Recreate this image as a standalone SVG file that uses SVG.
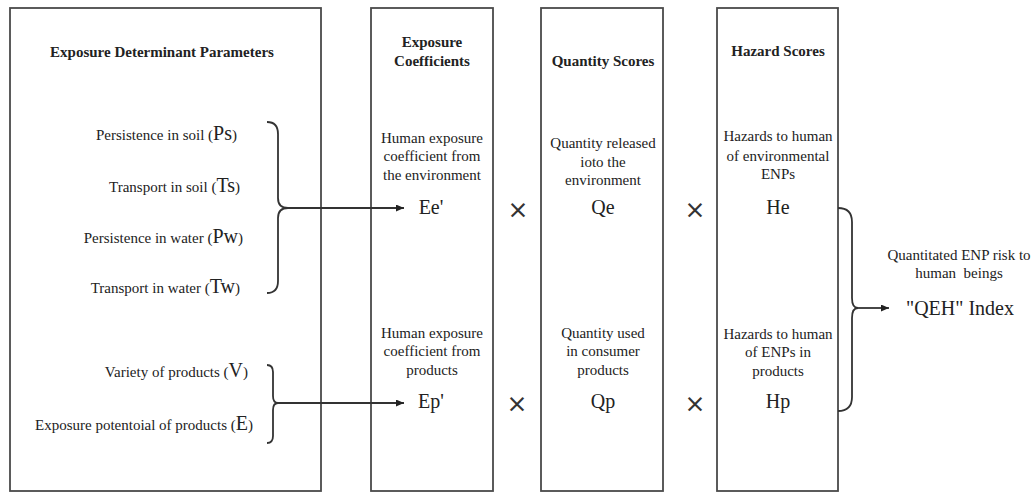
<svg xmlns="http://www.w3.org/2000/svg" width="1036" height="492" viewBox="0 0 1036 492">
<defs>
<style>
.box{fill:#fff;stroke:#4a4a4a;stroke-width:1.8}
.t{font-family:'Liberation Serif','DejaVu Serif',serif;font-size:15px;fill:#222}
.b{font-weight:bold}
.m{text-anchor:middle}
.e{text-anchor:end}
.big{font-size:20px}
.x{font-family:'DejaVu Sans',sans-serif;font-size:25px;fill:#333;text-anchor:middle}
.ln{fill:none;stroke:#333;stroke-width:1.8}
</style>
<marker id="ah" viewBox="0 0 10 10" refX="10" refY="5" markerWidth="8" markerHeight="7" markerUnits="userSpaceOnUse" orient="auto" preserveAspectRatio="none">
<path d="M0,0 L10,5 L0,10 z" fill="#222"/>
</marker>
</defs>
<rect width="1036" height="492" fill="#fff"/>

<g id="params">
<rect class="box" x="10" y="8" width="311" height="483"/>
<text class="t b m" x="162" y="57">Exposure Determinant Parameters</text>
<text class="t e" x="237" y="140">Persistence in soil (<tspan class="big">Ps</tspan>)</text>
<text class="t e" x="240" y="192">Transport in soil (<tspan class="big">Ts</tspan>)</text>
<text class="t e" x="243" y="243">Persistence in water (<tspan class="big">Pw</tspan>)</text>
<text class="t e" x="240" y="293">Transport in water (<tspan class="big">Tw</tspan>)</text>
<text class="t e" x="248" y="377">Variety of products (<tspan class="big">V</tspan>)</text>
<text class="t e" x="253" y="430">Exposure potentoial of products (<tspan class="big">E</tspan>)</text>
</g>

<g id="coefficients">
<rect class="box" x="371" y="8" width="122" height="483"/>
<text class="t b m" x="432" y="47">Exposure</text>
<text class="t b m" x="432" y="66">Coefficients</text>
<text class="t m" x="432" y="143">Human exposure</text>
<text class="t m" x="432" y="161">coefficient from</text>
<text class="t m" x="432" y="180">the environment</text>
<text class="t m big" x="431" y="214">Ee'</text>
<text class="t m" x="432" y="338">Human exposure</text>
<text class="t m" x="432" y="356">coefficient from</text>
<text class="t m" x="432" y="375">products</text>
<text class="t m big" x="431" y="408">Ep'</text>
</g>

<g id="quantity">
<rect class="box" x="541" y="8" width="122" height="483"/>
<text class="t b m" x="603" y="66">Quantity Scores</text>
<text class="t m" x="603" y="148">Quantity released</text>
<text class="t m" x="603" y="167">ioto the</text>
<text class="t m" x="603" y="185">environment</text>
<text class="t m big" x="603" y="214">Qe</text>
<text class="t m" x="603" y="338">Quantity used</text>
<text class="t m" x="603" y="356">in consumer</text>
<text class="t m" x="603" y="375">products</text>
<text class="t m big" x="603" y="408">Qp</text>
</g>

<g id="hazard">
<rect class="box" x="717" y="8" width="121" height="483"/>
<text class="t b m" x="778" y="56">Hazard Scores</text>
<text class="t m" x="778" y="141">Hazards to human</text>
<text class="t m" x="778" y="161">of environmental</text>
<text class="t m" x="778" y="179">ENPs</text>
<text class="t m big" x="778" y="214">He</text>
<text class="t m" x="778" y="339">Hazards to human</text>
<text class="t m" x="778" y="357">of ENPs in</text>
<text class="t m" x="778" y="376">products</text>
<text class="t m big" x="778" y="408">Hp</text>
</g>

<g id="times">
<text class="x" x="518" y="218">×</text>
<text class="x" x="695" y="218">×</text>
<text class="x" x="517" y="412">×</text>
<text class="x" x="695" y="412">×</text>
</g>

<g id="result">
<text class="t m" x="959" y="260">Quantitated ENP risk to</text>
<text class="t m" x="959" y="278" style="white-space:pre">human  beings</text>
<text class="t m big" x="960" y="315">"QEH" Index</text>
</g>

<g id="connectors">
<path class="ln" d="M267,122 Q278,122 278,134 L278,198 Q278,208 288,208 Q278,208 278,218 L278,281 Q278,293 267,293"/>
<path class="ln" d="M288,208 L404,208" marker-end="url(#ah)"/>
<path class="ln" d="M267,365 Q273,365 273,372 L273,396 Q273,403 278,403 Q273,403 273,410 L273,436 Q273,443 267,443"/>
<path class="ln" d="M278,403 L404,403" marker-end="url(#ah)"/>
<path class="ln" d="M838,208 Q852,208 852,222 L852,298 Q852,308 858,308 Q852,308 852,318 L852,397 Q852,411 838,411"/>
<path class="ln" d="M858,308 L889,308" marker-end="url(#ah)"/>
</g>
</svg>
